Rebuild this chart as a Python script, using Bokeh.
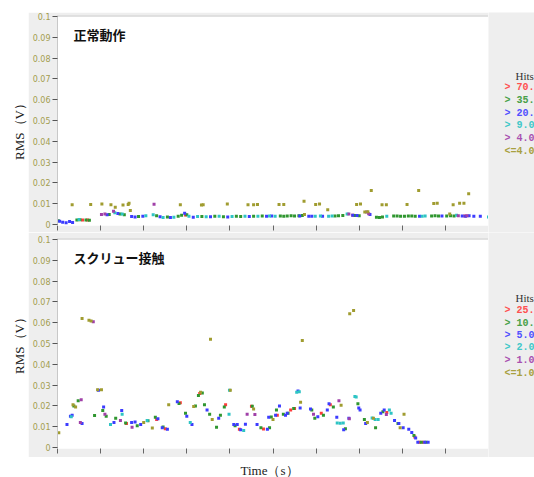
from bokeh.plotting import figure
from bokeh.models import Range1d, FixedTicker, CustomJSTickFormatter, Label, Span, Spacer
from bokeh.layouts import column, row
from bokeh.embed import file_html
from bokeh.resources import INLINE

# ---------------- data ----------------
Y_TICKS = [0, 0.01, 0.02, 0.03, 0.04, 0.05, 0.06, 0.07, 0.08, 0.09, 0.1]
X_TICKS = [0, 1, 2, 3, 4, 5, 6, 7, 8, 9, 10]

TOP_TITLE = "正常動作"
BOTTOM_TITLE = "スクリュー接触"
Y_LABEL = "RMS（V）"
X_LABEL = "Time（s）"
LEGEND_TITLE = "Hits"
TOP_LEGEND = ["> 70.0", "> 35.0", "> 20.0", "> 9.0", "> 4.0", "<=4.0"]
BOTTOM_LEGEND = ["> 25.0", "> 10.0", "> 5.0", "> 2.0", "> 1.0", "<=1.0"]

# top panel (normal operation)
top_red_x = [0.58, 0.7, 2.97, 6.85, 9.45]
top_red_y = [0.0021, 0.0021, 0.0046, 0.0044, 0.0041]
top_green_x = [0.02, 0.45, 0.52, 0.66, 0.74, 1.2, 1.45, 1.55, 1.88, 2.3, 2.55, 2.8, 2.88, 3.0,
               3.35, 3.65, 3.85, 4.15, 4.25, 4.55, 4.75, 5.17, 5.25, 5.33, 5.42, 5.5, 5.6, 5.68,
               6.44, 6.52, 6.62, 6.9, 7.0, 7.4, 7.47, 7.54, 7.8, 7.88, 7.96, 8.05, 8.14, 8.22,
               8.3, 8.68, 8.76, 8.84, 9.03, 9.12, 9.2]
top_green_y = [0.0018, 0.0022, 0.0023, 0.0021, 0.002, 0.0048, 0.005, 0.0047, 0.0038, 0.0042,
               0.0036, 0.0039, 0.0044, 0.0047, 0.0038, 0.0039, 0.0037, 0.0039, 0.0038, 0.004,
               0.0041, 0.0041, 0.004, 0.0041, 0.0042, 0.0041, 0.0042, 0.0043, 0.0041, 0.0042,
               0.0043, 0.0043, 0.0042, 0.0035, 0.0034, 0.0036, 0.0041, 0.0041, 0.004, 0.004,
               0.0041, 0.0041, 0.004, 0.0041, 0.0042, 0.0041, 0.0041, 0.0042, 0.0041]
top_blue_x = [0.05, 0.12, 0.2, 0.28, 0.35, 1.15, 1.4, 1.72, 1.8, 1.98, 2.38, 2.62, 2.95, 3.15,
              3.55, 3.95, 4.45, 4.85, 4.97, 5.62, 5.83, 5.9, 6.15, 6.85, 6.95, 7.25, 8.4, 8.92,
              9.39, 9.47, 9.55, 9.66, 9.81]
top_blue_y = [0.0015, 0.0011, 0.0008, 0.0014, 0.001, 0.0047, 0.0053, 0.0038, 0.0036, 0.0039,
              0.0037, 0.0033, 0.0054, 0.0035, 0.0037, 0.0036, 0.0038, 0.0039, 0.0041, 0.0041,
              0.0039, 0.004, 0.004, 0.0044, 0.0043, 0.0048, 0.004, 0.0041, 0.0041, 0.004,
              0.0042, 0.004, 0.004]
top_cyan_x = [0.5, 1.33, 1.5, 2.05, 2.22, 2.45, 2.7, 3.05, 3.25, 3.45, 3.75, 4.05, 4.35, 4.65,
              4.92, 5.05, 5.98, 6.1, 6.29, 6.37, 6.72, 7.64, 8.46, 8.53, 9.26, 10.0]
top_cyan_y = [0.0024, 0.0056, 0.005, 0.0042, 0.0047, 0.0034, 0.0035, 0.004, 0.0038, 0.0037,
              0.0039, 0.0038, 0.004, 0.004, 0.0041, 0.004, 0.004, 0.0041, 0.0039, 0.0041,
              0.005, 0.0039, 0.004, 0.0041, 0.0044, 0.0036]
top_purple_x = [1.02, 1.1, 1.3, 2.24, 6.76, 7.17, 7.22, 9.3, 9.5]
top_purple_y = [0.0048, 0.005, 0.0064, 0.0097, 0.005, 0.006, 0.0052, 0.0042, 0.0042]
top_olive_x = [0.34, 0.77, 1.03, 1.24, 1.34, 1.52, 1.64, 1.66, 1.69, 2.85, 3.34, 3.38, 3.94,
               4.42, 4.55, 4.64, 5.14, 5.25, 5.72, 5.73, 5.99, 6.08, 6.27, 6.94, 7.03, 7.13,
               7.2, 7.28, 7.53, 7.63, 8.11, 8.38, 8.73, 8.81, 9.1, 9.18, 9.33, 9.43, 9.54]
top_olive_y = [0.0095, 0.0096, 0.0098, 0.0095, 0.0083, 0.0094, 0.0096, 0.0102, 0.0067, 0.0095,
               0.0093, 0.0095, 0.0099, 0.0095, 0.0095, 0.0096, 0.0096, 0.0096, 0.0112, 0.0048,
               0.0096, 0.0099, 0.0071, 0.0096, 0.0099, 0.006, 0.0061, 0.0163, 0.0095, 0.0095,
               0.0096, 0.0163, 0.0101, 0.0102, 0.005, 0.0095, 0.0102, 0.0102, 0.0148]

# bottom panel (screw contact)
bot_red_x = [1.6, 2.3, 2.5, 2.85, 3.3, 3.9, 4.22, 4.5, 4.78, 5.1, 5.41, 5.5, 6.12, 6.33, 7.64,
             8.29, 8.4, 8.48]
bot_red_y = [0.0115, 0.0135, 0.009, 0.0215, 0.026, 0.0205, 0.0088, 0.0198, 0.0089, 0.0155,
             0.018, 0.0187, 0.0165, 0.0205, 0.0168, 0.005, 0.0025, 0.0025]
bot_green_x = [0.38, 0.48, 0.86, 1.05, 1.13, 1.35, 1.58, 1.85, 2.1, 2.27, 2.45, 2.82, 2.97, 3.2,
               3.27, 3.36, 3.41, 3.53, 3.69, 3.78, 3.87, 4.12, 4.52, 4.72, 4.92, 4.96, 5.08,
               5.24, 5.35, 5.48, 5.9, 5.97, 6.17, 6.4, 6.68, 6.97, 7.12, 7.38, 7.55, 7.9, 8.27,
               8.44, 8.55]
bot_green_y = [0.02, 0.0225, 0.0154, 0.0178, 0.015, 0.014, 0.0118, 0.0105, 0.0128, 0.0145,
               0.0098, 0.0212, 0.0165, 0.02, 0.025, 0.0262, 0.0205, 0.016, 0.0097, 0.0155,
               0.0195, 0.0105, 0.0198, 0.0095, 0.0095, 0.0147, 0.018, 0.016, 0.0165, 0.0187,
               0.018, 0.014, 0.0155, 0.0195, 0.009, 0.021, 0.0135, 0.0095, 0.0172, 0.0115,
               0.0058, 0.0025, 0.0025]
bot_blue_x = [0.22, 0.3, 0.34, 0.57, 0.95, 1.07, 1.31, 1.49, 1.72, 1.8, 1.93, 2.33, 2.43, 2.55,
              2.78, 3.0, 3.12, 3.47, 3.74, 4.09, 4.17, 4.25, 4.36, 4.63, 4.87, 4.9, 5.06, 5.15,
              5.29, 5.33, 5.58, 5.63, 5.87, 6.04, 6.26, 6.3, 6.48, 6.64, 6.76, 6.99, 7.02, 7.15,
              7.5, 7.58, 7.82, 7.92, 8.02, 8.15, 8.22, 8.31, 8.36, 8.52, 8.6]
bot_blue_y = [0.011, 0.015, 0.0155, 0.0115, 0.0275, 0.0195, 0.012, 0.0178, 0.012, 0.0122,
              0.011, 0.0138, 0.0095, 0.0087, 0.022, 0.015, 0.011, 0.018, 0.014, 0.011, 0.011,
              0.0085, 0.0112, 0.011, 0.0088, 0.0145, 0.0155, 0.02, 0.0155, 0.0165, 0.0272,
              0.019, 0.0185, 0.0148, 0.018, 0.021, 0.0145, 0.0085, 0.014, 0.019, 0.018, 0.0115,
              0.0165, 0.018, 0.013, 0.0115, 0.0095, 0.0087, 0.0072, 0.0045, 0.0025, 0.0025,
              0.0025]
bot_cyan_x = [0.32, 1.23, 1.5, 2.08, 3.08, 3.98, 3.99, 4.32, 5.55, 5.61, 6.49, 6.56, 6.63, 6.9,
              6.93, 7.3, 7.37, 7.44, 7.7, 7.74]
bot_cyan_y = [0.0148, 0.011, 0.016, 0.013, 0.012, 0.016, 0.0275, 0.0082, 0.0265, 0.0268,
              0.0118, 0.0116, 0.0118, 0.0245, 0.0243, 0.0142, 0.0135, 0.0134, 0.018, 0.0165]
bot_purple_x = [0.53, 0.55, 0.83, 1.1, 1.46, 1.73, 4.4, 4.58, 5.94, 6.53, 6.77, 7.63]
bot_purple_y = [0.012, 0.023, 0.0605, 0.016, 0.013, 0.0097, 0.016, 0.0158, 0.016, 0.0225,
                0.0138, 0.0158]
bot_olive_x = [0.03, 0.36, 0.42, 0.57, 0.73, 0.78, 0.93, 1.02, 2.0, 2.2, 2.58, 3.16, 3.32, 3.55,
               3.59, 4.01, 4.55, 5.0, 5.64, 5.68, 6.58, 6.78, 6.87, 7.19, 7.33, 7.95, 8.04]
bot_olive_y = [0.0071, 0.0205, 0.0195, 0.062, 0.0612, 0.0608, 0.0277, 0.0277, 0.012, 0.0093,
               0.0205, 0.0197, 0.0265, 0.052, 0.0135, 0.0275, 0.0185, 0.0135, 0.0217, 0.0515,
               0.0203, 0.0643, 0.0659, 0.012, 0.014, 0.0095, 0.016]

# ---------------- style ----------------
COLORS = ["#ff3c3c", "#2f962f", "#3c3cff", "#2ec4c4", "#a040a8", "#a09c30"]
LEGEND_COLORS = ["#ff5050", "#48a048", "#5050ff", "#40c8c8", "#a850b0", "#a8a040"]
GRAY = "#eeeeee"
TICK_LABEL_COLOR = "#a39d4e"

FRAME_L = 29          # left border of a panel (axis area)
FRAME_W = 431
FRAME_H = 210
PANEL_W = FRAME_L + FRAME_W
LEG_W = 46
Y0, Y1 = -0.0005, 0.1005


def x_of(px, left):  # page pixel -> data x
    return (px - left) / (FRAME_W / 10.0)


def y_of(py, frame_top):  # page pixel -> data y
    return Y1 - (py - frame_top) * (Y1 - Y0) / FRAME_H


def panel(series, title, height, b_top, b_bottom, frame_top):
    p = figure(width=PANEL_W, height=height, output_backend="svg", toolbar_location=None,
               x_range=Range1d(0, 10), y_range=Range1d(Y0, Y1),
               min_border_left=FRAME_L, min_border_right=0,
               min_border_top=b_top, min_border_bottom=b_bottom,
               border_fill_color=GRAY, background_fill_color="white",
               outline_line_color=None)
    p.grid.visible = False

    xa = p.xaxis[0]
    xa.ticker = FixedTicker(ticks=X_TICKS)
    xa.major_label_text_font_size = "0px"
    xa.major_label_text_color = None
    xa.major_label_standoff = 0
    xa.axis_line_color = None
    xa.major_tick_out = 5
    xa.major_tick_in = 0
    xa.major_tick_line_color = "#666666"
    xa.minor_tick_line_color = None

    ya = p.yaxis[0]
    ya.ticker = FixedTicker(ticks=Y_TICKS)
    ya.formatter = CustomJSTickFormatter(code="return String(Math.round(tick * 100) / 100);")
    ya.major_label_text_color = TICK_LABEL_COLOR
    ya.major_label_text_font = "DejaVu Sans"
    ya.major_label_text_font_size = "8px"
    ya.major_label_standoff = 2
    ya.major_tick_out = 5
    ya.major_tick_in = 0
    ya.major_tick_line_color = "#555555"
    ya.minor_tick_line_color = None
    ya.axis_line_color = "#c8c8c8"

    p.add_layout(Span(location=Y1, dimension="width", line_color="#c4c4c4", line_width=2))

    for (xs, ys), c in zip(series, COLORS):
        p.scatter(xs, ys, marker="square", size=3, fill_color=c, line_color=None)

    p.add_layout(Label(x=x_of(73, 57), y=y_of(frame_top + 19, frame_top), text=title,
                       text_font="Noto Sans CJK JP", text_font_style="bold",
                       text_font_size="13px", text_baseline="middle", text_color="#111111"))
    return p


def blank(w, h, fill):
    f = figure(width=w, height=h, output_backend="svg", toolbar_location=None,
               x_range=Range1d(0, w), y_range=Range1d(0, h),
               x_axis_location=None, y_axis_location=None, min_border=0,
               outline_line_color=None, border_fill_color=fill,
               background_fill_color=fill)
    f.grid.visible = False
    return f


def legend_fig(entries, height, fig_top, hits_py, rows_py):
    f = blank(LEG_W, height, GRAY)
    f.add_layout(Label(x=515 - 488, y=height - (hits_py - fig_top), text=LEGEND_TITLE,
                       text_font="Liberation Serif", text_font_size="11px",
                       text_baseline="middle", text_color="#333333"))
    for txt, c, py in zip(entries, LEGEND_COLORS, rows_py):
        f.add_layout(Label(x=504 - 488, y=height - (py - fig_top), text=txt,
                           text_font="Liberation Mono", text_font_style="bold",
                           text_font_size="10px", text_baseline="middle", text_color=c))
    return f


top_series = [(top_red_x, top_red_y), (top_green_x, top_green_y), (top_blue_x, top_blue_y),
              (top_cyan_x, top_cyan_y), (top_purple_x, top_purple_y), (top_olive_x, top_olive_y)]
bot_series = [(bot_red_x, bot_red_y), (bot_green_x, bot_green_y), (bot_blue_x, bot_blue_y),
              (bot_cyan_x, bot_cyan_y), (bot_purple_x, bot_purple_y), (bot_olive_x, bot_olive_y)]

# page (no margin): top spacer 0..12, panels 12..457, x label 457..477
top = panel(top_series, TOP_TITLE, 220, 3, 7, 15)          # 12..232, frame 15..225
bottom = panel(bot_series, BOTTOM_TITLE, 225, 6, 9, 238)   # 232..457, frame 238..448

top_leg = legend_fig(TOP_LEGEND, 220, 12, 75, [87, 99.5, 112.5, 125, 138, 150.5])
bot_leg = legend_fig(BOTTOM_LEGEND, 225, 232, 297, [310, 322.7, 335, 347.3, 360, 372.7])

left = blank(28, 445, "white")
for cy in (128, 342):
    left.add_layout(Label(x=19, y=445 - (cy - 12), text=Y_LABEL, angle=1.5708,
                          text_font="Liberation Serif", text_font_size="13px",
                          text_align="center", text_baseline="middle", text_color="#222222"))

bottom_lbl = blank(534, 20, "white")
bottom_lbl.add_layout(Label(x=269, y=7, text=X_LABEL,
                            text_font="Liberation Serif", text_font_size="13px",
                            text_align="center", text_baseline="middle", text_color="#222222"))

layout = column(Spacer(width=534, height=12),
                row(left, column(top, bottom), column(top_leg, bot_leg)),
                bottom_lbl)

open("out.html", "w").write(file_html(layout, INLINE))
